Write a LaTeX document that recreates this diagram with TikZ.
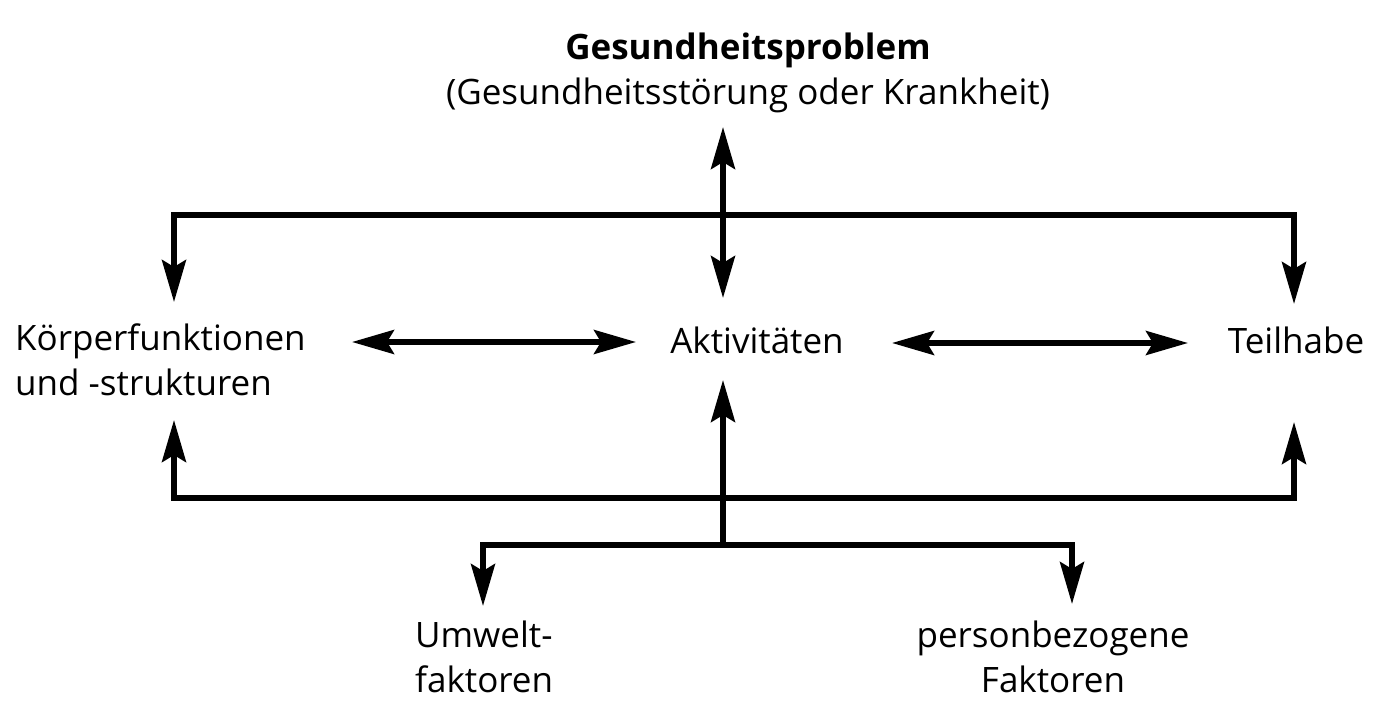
\documentclass[tikz,border=0pt]{standalone}
\usepackage{fontspec}
\setmainfont{Open Sans}
\usetikzlibrary{arrows.meta}

\tikzset{
  lbl/.style={inner sep=0pt, font=\fontsize{35}{45}\selectfont},
  con/.style={line width=5.5pt},
  tip/.tip={Stealth[length=42pt,width=24pt,inset=7pt]}
}

\begin{document}
\begin{tikzpicture}[x=1pt,y=-1pt]
    \useasboundingbox (0,0) rectangle (1381,701);
    % texte (base = letzte zeile)
    \node[lbl, anchor=base, align=center] (prob) at (748,104)
      {\textbf{Gesundheitsproblem}\\(Gesundheitsstörung oder Krankheit)};
    \node[lbl, anchor=base west, align=left] (koerper) at (15,395)
      {Körperfunktionen\\und -strukturen};
    \node[lbl, anchor=base] (akt) at (757,353) {Aktivitäten};
    \node[lbl, anchor=base] (teil) at (1296,353) {Teilhabe};
    \node[lbl, anchor=base west, align=left] (umwelt) at (415,692)
      {Umwelt-\\faktoren};
    \node[lbl, anchor=base, align=center] (person) at (1053,692)
      {personbezogene\\Faktoren};
    % knoten der linien
    \coordinate (ptop) at (723,127);
    \coordinate (pbot) at (723,298);
    \coordinate (tl) at (174,215);
    \coordinate (tr) at (1294,215);
    \coordinate (kdown) at (174,302);
    \coordinate (tdown) at (1294,304);
    \coordinate (kright) at (352,342);
    \coordinate (aleft) at (636,342);
    \coordinate (aright) at (892,343);
    \coordinate (tleft) at (1188,343);
    \coordinate (aup) at (723,380);
    \coordinate (kup) at (174,420);
    \coordinate (tup) at (1294,422);
    \coordinate (bl) at (174,498);
    \coordinate (br) at (1294,498);
    \coordinate (mid) at (723,545);
    \coordinate (ul) at (483,545);
    \coordinate (pr) at (1072,545);
    \coordinate (udown) at (483,606);
    \coordinate (pdown) at (1072,604);
    % pfeile
    \draw[con, tip-tip] (ptop) -- (pbot);
    \draw[con, tip-tip] (kdown) -- (tl) -- (tr) -- (tdown);
    \draw[con, tip-tip] (kright) -- (aleft);
    \draw[con, tip-tip] (aright) -- (tleft);
    \draw[con, tip-tip] (kup) -- (bl) -- (br) -- (tup);
    \draw[con, -tip] (mid) -- (aup);
    \draw[con, tip-tip] (udown) -- (ul) -- (pr) -- (pdown);
\end{tikzpicture}
\end{document}
